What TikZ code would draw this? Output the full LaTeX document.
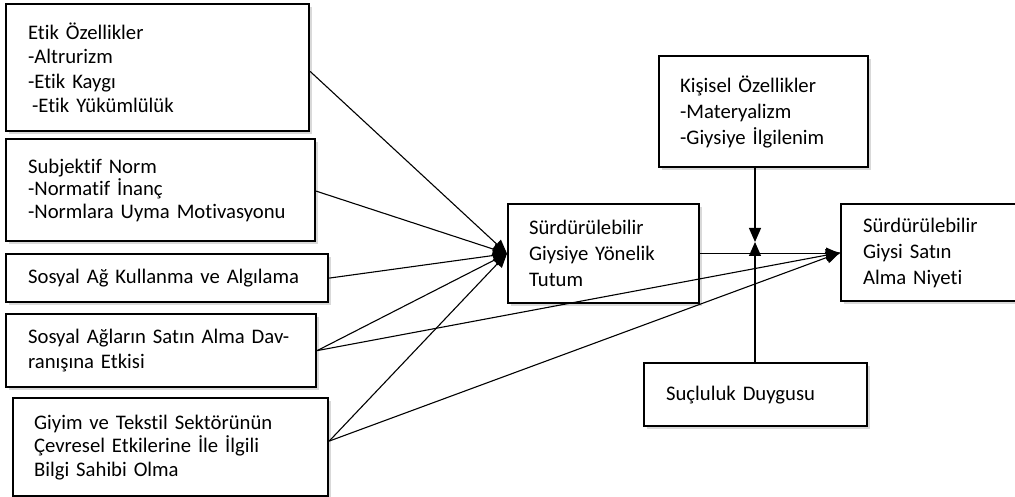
\documentclass[tikz,border=0pt]{standalone}
\usepackage{fontspec}
\setmainfont{Carlito}[Ligatures={NoCommon}]
\usetikzlibrary{arrows.meta,shadows,calc}
\begin{document}
\begin{tikzpicture}[x=1pt,y=-1pt,
  box/.style={draw, line width=2.2pt, fill=white, anchor=north west, align=left,
    inner ysep=0pt, font=\fontsize{20.7}{24.5}\selectfont,
    drop shadow={shadow xshift=2.5pt, shadow yshift=-2.5pt, opacity=0.3}},
  conn/.style={line width=1.1pt},
  arr/.style={conn, -{Triangle[length=14pt,width=12pt]}}]
\useasboundingbox (0,0) rectangle (1015,497);
\clip (0,0) rectangle (1015,497);

\node[box, minimum width=303pt, minimum height=127pt, text width=259pt, inner xsep=22pt] (etik) at (5,3)
  {\mbox{Etik Özellikler}\\\mbox{-Altrurizm}\\\mbox{-Etik Kaygı}\\\mbox{\hspace*{4pt}-Etik Yükümlülük}};
\node[box, minimum width=309pt, minimum height=102pt, text width=265pt, inner xsep=22pt, font=\fontsize{20.7}{22.5}\selectfont] (subj) at (5,138)
  {\mbox{Subjektif Norm}\\\mbox{-Normatif İnanç}\\\mbox{-Normlara Uyma Motivasyonu}};
\node[box, minimum width=322pt, minimum height=48pt, text width=278pt, inner xsep=22pt] (kull) at (5,253)
  {\mbox{Sosyal Ağ Kullanma ve Algılama}};
\node[box, minimum width=310pt, minimum height=73pt, text width=266pt, inner xsep=22pt] (agl) at (5,313)
  {\mbox{Sosyal Ağların Satın Alma Dav-}\\\mbox{ranışına Etkisi}};
\node[box, minimum width=315pt, minimum height=98pt, text width=273pt, inner xsep=21pt, font=\fontsize{20.7}{23.5}\selectfont] (giyim) at (12,397)
  {\mbox{Giyim ve Tekstil Sektörünün}\\\mbox{Çevresel Etkilerine İle İlgili}\\\mbox{Bilgi Sahibi Olma}};
\node[box, minimum width=191pt, minimum height=99pt, text width=149pt, inner xsep=21pt, font=\fontsize{20.7}{26}\selectfont] (tutum) at (507,203)
  {\mbox{Sürdürülebilir}\\\mbox{Giysiye Yönelik}\\\mbox{Tutum}};
\node[box, minimum width=209pt, minimum height=111pt, text width=167pt, inner xsep=21pt, font=\fontsize{20.7}{26}\selectfont] (kisisel) at (658,55)
  {\mbox{Kişisel Özellikler}\\\mbox{-Materyalizm}\\\mbox{-Giysiye İlgilenim}};
\node[box, minimum width=200pt, minimum height=97pt, text width=156pt, inner xsep=22pt, font=\fontsize{20.7}{26}\selectfont] (satin) at (840,203)
  {\mbox{Sürdürülebilir}\\\mbox{Giysi Satın}\\\mbox{Alma Niyeti}};
\node[box, minimum width=223pt, minimum height=63pt, text width=179pt, inner xsep=22pt] (suc) at (643,362)
  {\mbox{Suçluluk Duygusu}};

\draw[arr] ($(etik.north east)!0.53!(etik.south east)$) -- (tutum.west);
\draw[arr] ($(subj.north east)!0.51!(subj.south east)$) -- (tutum.west);
\draw[arr] (kull.east) -- (tutum.west);
\draw[arr] (agl.east) -- (tutum.west);
\draw[arr] ($(giyim.north east)!0.44!(giyim.south east)$) -- (tutum.west);
\draw[arr] (agl.east) -- (satin.west);
\draw[arr] ($(giyim.north east)!0.44!(giyim.south east)$) -- (satin.west);
\draw[arr] (tutum.east) -- (tutum.east -| satin.west);

\coordinate (mod) at (755,242);
\draw[arr] (kisisel.south -| mod) -- (mod);
\draw[arr] (suc.north -| mod) -- (mod);
\end{tikzpicture}
\end{document}
